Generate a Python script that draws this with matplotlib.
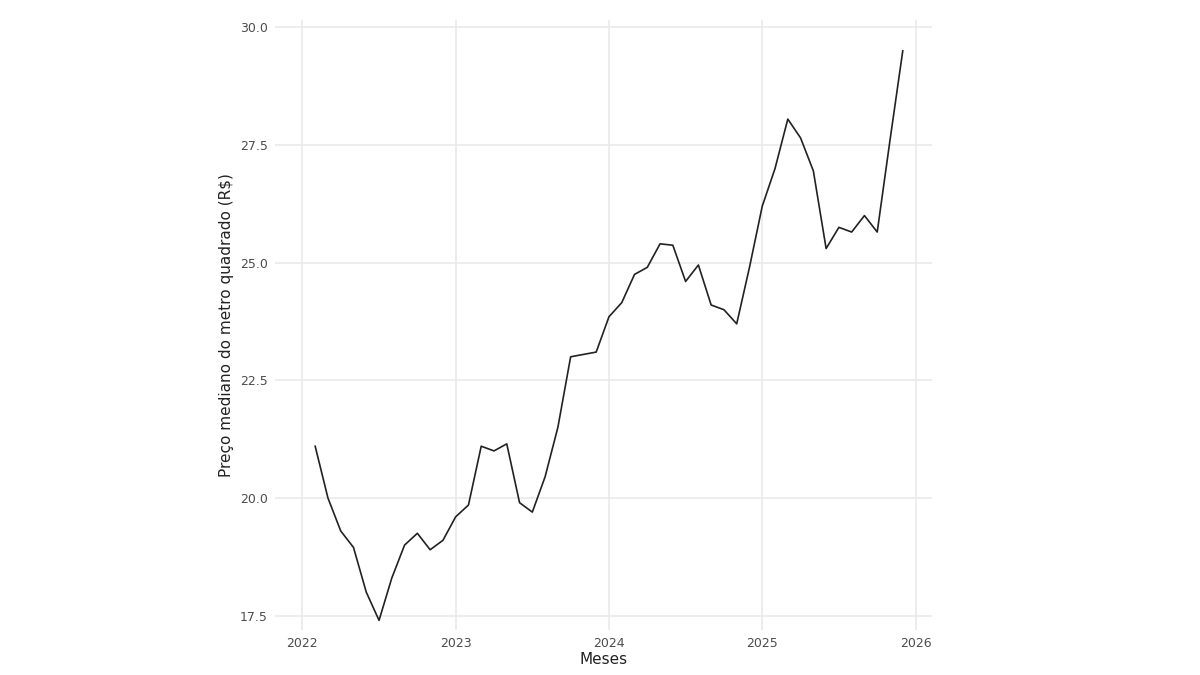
import matplotlib
matplotlib.use("Agg")
import matplotlib.pyplot as plt
import numpy as np

months = np.arange(1, 48)  # months since Jan 2022 (Feb 2022 .. Dec 2025)
prices = [21.1, 20.0, 19.3, 18.95, 18.0, 17.4, 18.3, 19.0, 19.25, 18.9, 19.1,
          19.6, 19.85, 21.1, 21.0, 21.15, 19.9, 19.7, 20.45, 21.5, 23.0, 23.05, 23.1,
          23.85, 24.15, 24.75, 24.9, 25.4, 25.37, 24.6, 24.95, 24.1, 24.0, 23.7, 24.9,
          26.2, 27.0, 28.05, 27.65, 26.95, 25.3, 25.75, 25.65, 26.0, 25.65, 27.6, 29.5]
xticks = [2022, 2023, 2024, 2025, 2026]
yticks = [17.5, 20.0, 22.5, 25.0, 27.5, 30.0]

x = 2022 + months / 12.0

fig = plt.figure(figsize=(12, 6.75), dpi=100)
ax = fig.add_axes([0.229, 0.067, 0.548, 0.903])
ax.plot(x, prices, color="#222222", lw=1.2)
ax.set_xlim(2021.82, 2026.11)
ax.set_ylim(17.2, 30.15)
ax.set_xticks(xticks)
ax.set_xticklabels([str(t) for t in xticks])
ax.set_yticks(yticks)
ax.set_yticklabels([f"{t:.1f}" for t in yticks])
for s in ax.spines.values():
    s.set_visible(False)
ax.grid(True, color="#e8e8e8", lw=1.1)
ax.tick_params(length=0, labelsize=9, colors="#4d4d4d", pad=5)
ax.set_xlabel("Meses", fontsize=11, color="#222222", labelpad=2)
ax.set_ylabel("Preço mediano do metro quadrado (R$)", fontsize=11, color="#222222")
fig.savefig("out.png", dpi=100)
